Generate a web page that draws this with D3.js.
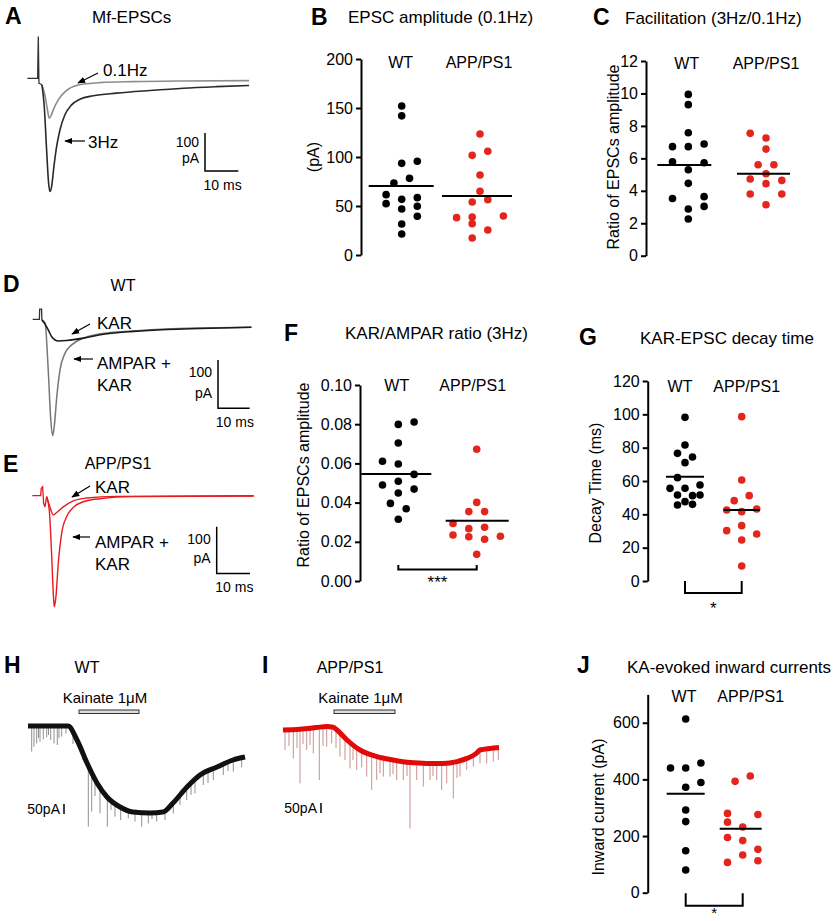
<!DOCTYPE html>
<html><head><meta charset="utf-8">
<script src="https://cdn.jsdelivr.net/npm/d3@7"></script>
<style>body{margin:0;background:#fff}svg{display:block}</style>
</head><body>
<script>
// ---------------- DATA ----------------
const groups = ["WT", "APP/PS1"];
// B: EPSC amplitude (pA)
const bWT = [152,142,93.5,95.6,73.5,78.2,61.6,52.4,56.8,58.5,46.9,49.7,39.5,31.6,21.4];
const bWTSlot = [0,0,0,2,-1,1,-2,-2,0,2,0,2,2,0,0];
const bAPP = [123.5,101.7,105.8,81.6,65,54.1,56.5,38.1,38.8,39.8,32,25.5,17.3];
const bAPPSlot = [0,-1,1,0,0,-1,1,-3,-1,3,-1,1,-1];
const bMean = [70.3, 60.1];
const bTicks = [0,50,100,150,200];
// C: Facilitation ratio
const cWT = [9.94,9.31,7.58,6.72,6.72,6.88,5.79,5.73,5.30,4.46,3.53,3.64,3.04,2.88,2.26];
const cWTSlot = [0,0,0,-2,0,2,-2,2,0,0,-2,2,2,0,0];
const cAPP = [7.54,7.25,6.57,5.61,5.61,4.73,5.05,4.44,4.64,3.80,3.80,3.14];
const cAPPSlot = [-2,0,0,-1,1,-2,0,0,2,-2,2,0];
const cMean = [5.59, 5.05];
const cTicks = [0,2,4,6,8,10,12];
// F: KAR/AMPAR ratio
const fWT = [0.0799,0.0811,0.0704,0.0611,0.0597,0.0544,0.0490,0.0509,0.0469,0.0449,0.0396,0.0369,0.0315];
const fWTSlot = [0,2,0,-2,0,2,-2,0,2,0,-1,1,0];
const fAPP = [0.0672,0.0401,0.0354,0.0354,0.0294,0.0267,0.0274,0.0235,0.0226,0.0213,0.0228,0.0136];
const fAPPSlot = [0,0,-1,1,-3,-1,1,-3,-1,1,3,0];
const fMean = [0.0546, 0.0308];
const fTicks = [0,0.02,0.04,0.06,0.08,0.10];
// G: KAR-EPSC decay time (ms)
const gWT = [98.2,81.6,76.6,74.4,71,62,55.6,55.6,57.6,51.6,51.2,51.6,47.6,45.6,46];
const gWTSlot = [0,0,-1,1,0,-1,-2,0,2,-1,1,2,0,-1,1];
const gAPP = [98.6,60.6,48.2,51.2,42.6,41.6,43.2,33.2,30.2,28.2,24.6,9];
const gAPPSlot = [0,0,-1,1,-2,0,2,0,-2,2,0,0];
const gMean = [62.6, 42.6];
const gTicks = [0,20,40,60,80,100,120];
// J: KA-evoked inward currents (pA)
const jWT = [613,440,440,458,372,389,292,251,148,80];
const jWTSlot = [0,-2,0,2,0,2,0,0,0,0];
const jAPP = [393,412,280,276,249,232,195,184,153,133,107,113];
const jAPPSlot = [-1,1,-2,2,-2,0,-2,0,2,0,-2,2];
const jMean = [349, 226];
const jTicks = [0,200,400,600];

// A: Mf-EPSC traces [ms, pA]
const aStim = [[0,0],[3.1,0],[3.3,110],[3.5,-13],[4.0,-15],[4.4,-17.5]];
const a01Hz = [[4.4,-17.5],[5.3,-45],[6.0,-80],[6.6,-105],[7.2,-97],[7.8,-83],[9.3,-57],[11.8,-32],[15.3,-17.5],[21.8,-11.4],[31.8,-8.8],[46.8,-7],[66.6,-6.1]];
const a3Hz = [[4.4,-17.5],[5.1,-75],[5.8,-189],[6.4,-276],[6.8,-298],[7.3,-285],[8.0,-232],[8.8,-180],[9.8,-136],[11.3,-96],[13.3,-70],[15.8,-55],[19.8,-46],[26.8,-39],[36.8,-32],[46.8,-26],[56.8,-22],[66.6,-19]];
// D: WT traces
const dStim = [[0,0],[2.1,0],[2.2,21],[2.8,21],[2.9,-1.4]];
const dAmpaKar = [[2.9,-1.4],[3.9,-8],[4.9,-105],[5.7,-208],[6.3,-241],[6.8,-222],[7.6,-160],[8.6,-105],[10.2,-70],[12.3,-53],[16,-39],[21.3,-30],[31.8,-24],[42.3,-20],[52.8,-18],[69,-16.5]];
const dKar = [[2.9,-1.4],[3.9,-10],[4.9,-22],[6,-36],[8.1,-45],[10.7,-44],[16,-39],[21.3,-32],[31.8,-25],[42.3,-21],[52.8,-19],[69,-16.5]];
// E: APP/PS1 traces
const eStim = [[0,0],[2.5,0],[2.7,16],[3.1,19],[3.4,-16],[3.8,-24],[4.3,-2]];
const eKar = [[4.3,-2],[5.3,-24],[6.3,-41],[7.3,-36],[9.3,-24],[12.3,-11],[16.3,-5],[25.3,-1.4],[66.5,0]];
const eAmpaKar = [[4.3,-2],[5.1,-31],[5.8,-124],[6.3,-209],[6.6,-238],[7.1,-216],[7.8,-145],[8.8,-81],[10.3,-45],[12.3,-25],[15.3,-13],[20.3,-6.4],[30.3,-2],[66.5,-0.7]];
// H: WT kainate response [s, pA] and spontaneous events (tip pA)
const hTrace = [[0,0],[40,0],[49,-70],[59,-185],[69,-285],[79,-355],[92,-405],[105,-430],[122,-435],[135,-430],[145,-385],[159,-305],[172,-245],[189,-205],[205,-170],[217,-155]];
const hEvents = [[3.7,-128],[6,-103],[8.7,-87],[10.5,-60],[12,-78],[15.3,-67],[18.7,-57],[20.5,-45],[22.7,-70],[26,-87],[29.3,-95],[31,-60],[33.7,-53],[38,-37],[45,-90],[55,-170],[60.3,-503],[63.7,-428],[67,-350],[72,-437],[79.3,-503],[83,-420],[87,-453],[92.7,-470],[100.3,-462],[107,-478],[113.7,-503],[120.3,-487],[124,-465],[128.7,-478],[137,-470],[145.3,-437],[152,-395],[158.7,-370],[163,-345],[167,-337],[175.3,-295],[180,-285],[185.3,-270],[195.3,-245],[200,-225],[205.3,-228],[213.7,-207]];
// I: APP/PS1 kainate response
const iTrace = [[0,0],[17,4],[33,12],[44,18],[50,14],[54,0],[64,-50],[77,-100],[94,-133],[110,-150],[127,-163],[144,-167],[160,-167],[174,-158],[184,-142],[193,-118],[197,-100],[207,-92],[216,-88]];
const iEvents = [[2,-100],[6,-80],[10.3,-142],[14,-90],[17,-267],[20,-70],[23.7,-100],[27,-75],[30.3,-117],[36.3,-250],[40,-80],[43.7,-83],[48.7,-67],[53,-90],[57,-133],[62,-150],[67,-192],[70,-150],[73.7,-200],[78.7,-187],[83.7,-233],[88.7,-300],[93.7,-250],[97,-215],[100.3,-233],[107,-233],[110,-220],[113.7,-250],[120.3,-250],[124,-230],[127,-492],[133.7,-250],[140.3,-283],[147,-250],[150,-230],[153.7,-250],[158.7,-300],[163.7,-267],[170.3,-342],[174,-240],[177,-233],[183.7,-200],[190.3,-183],[197,-167],[203.7,-167],[210.3,-158],[215.3,-150]];

// ---------------- DRAWING ----------------
const FONT = "'Liberation Sans', Arial, Helvetica, sans-serif";
const RED = "#e3261b";
const svg = d3.select("body").append("svg").attr("width",837).attr("height",921)
  .style("font-family", FONT);

function txt(x,y,s,o={}){
  const t = svg.append("text").attr("x",x).attr("y",y).text(s)
    .attr("font-size",o.size||15).attr("fill",o.fill||"#000")
    .attr("text-anchor",o.anchor||"start");
  if(o.weight) t.attr("font-weight",o.weight);
  if(o.rotate) t.attr("transform",`rotate(-90,${x},${y})`);
  return t;
}
const defs = svg.append("defs");
defs.append("marker").attr("id","arr").attr("viewBox","0 0 10 10")
  .attr("refX",9).attr("refY",5).attr("markerWidth",8).attr("markerHeight",8)
  .attr("markerUnits","userSpaceOnUse").attr("orient","auto")
  .append("path").attr("d","M0,1 L10,5 L0,9 z").attr("fill","#000");
function arrow(x1,y1,x2,y2){
  svg.append("line").attr("x1",x1).attr("y1",y1).attr("x2",x2).attr("y2",y2)
    .attr("stroke","#000").attr("stroke-width",1.2).attr("marker-end","url(#arr)");
}

// panel letters & titles
[["A",5,24],["B",311,25],["C",593,25],["D",3,292],["E",3,472],["F",284,341],["G",579,345],["H",4,673],["I",262,673],["J",577,673]]
  .forEach(([l,x,y])=>txt(x,y,l,{size:23,weight:"bold"}));
txt(92,23,"Mf-EPSCs",{size:17});
txt(348,23,"EPSC amplitude (0.1Hz)",{size:17});
txt(625,24,"Facilitation (3Hz/0.1Hz)",{size:17});
txt(123,291,"WT",{size:16,anchor:"middle"});
txt(118,469,"APP/PS1",{size:16,anchor:"middle"});
txt(345,339,"KAR/AMPAR ratio (3Hz)",{size:17});
txt(640,344,"KAR-EPSC decay time",{size:17});
txt(87,673,"WT",{size:16,anchor:"middle"});
txt(350,673,"APP/PS1",{size:16,anchor:"middle"});
txt(627,673,"KA-evoked inward currents",{size:17});

// ---------- scatter panels ----------
function scatter(c){
  const y = d3.scaleLinear().domain(c.domain).range([c.y0,c.y1]);
  const x = d3.scalePoint().domain(groups).range([c.xWT,c.xAPP]);
  const g = svg.append("g").attr("transform",`translate(${c.axisX},0)`)
    .call(d3.axisLeft(y).tickValues(c.ticks).tickFormat(c.fmt||d3.format("d"))
      .tickSize(5).tickSizeOuter(0).tickPadding(3));
  g.select(".domain").attr("stroke-width",2).attr("stroke","#000");
  g.selectAll(".tick line").attr("stroke-width",2).attr("stroke","#000");
  g.selectAll(".tick text").attr("font-size",16).attr("font-family",FONT).attr("fill","#000");
  const sets = [[c.wt,c.wtSlot,"#000",groups[0]],[c.app,c.appSlot,RED,groups[1]]];
  sets.forEach(([vals,slots,col,grp])=>{
    svg.append("g").selectAll("circle").data(vals).join("circle")
      .attr("cx",(d,i)=>x(grp)+slots[i]*c.slot).attr("cy",d=>y(d))
      .attr("r",3.8).attr("fill",col);
  });
  c.mean.forEach((m,i)=>{
    const cx = x(groups[i]);
    svg.append("line").attr("x1",cx-c.half[i][0]).attr("x2",cx+c.half[i][1])
      .attr("y1",y(m)).attr("y2",y(m)).attr("stroke","#000").attr("stroke-width",2);
  });
  txt(c.xWT+c.lab[0],c.labY,groups[0],{size:16,anchor:"middle"});
  txt(c.xAPP+c.lab[1],c.labY,groups[1],{size:16,anchor:"middle"});
  txt(c.ylab[0],c.ylab[1],c.ylabel,{size:16,anchor:"middle",rotate:true});
  if(c.br){
    const [top,bot,ty,stars,ss] = c.br;
    svg.append("path").attr("d",`M${c.xWT},${top}V${bot}H${c.xAPP}V${top}`)
      .attr("fill","none").attr("stroke","#000").attr("stroke-width",2);
    txt((c.xWT+c.xAPP)/2,ty,stars,{size:ss,anchor:"middle"});
  }
  return y;
}

scatter({domain:[0,200],y0:255,y1:59,axisX:361,ticks:bTicks,xWT:401.7,xAPP:480,slot:7.8,
  wt:bWT,wtSlot:bWTSlot,app:bAPP,appSlot:bAPPSlot,mean:bMean,half:[[33,32],[38,32]],
  lab:[-1,-1],labY:68,ylab:[319,157],ylabel:"(pA)"});
scatter({domain:[0,12],y0:255.7,y1:61,axisX:646,ticks:cTicks,xWT:688.3,xAPP:766,slot:7.9,
  wt:cWT,wtSlot:cWTSlot,app:cAPP,appSlot:cAPPSlot,mean:cMean,half:[[31,23],[29,24]],
  lab:[-1.5,0],labY:69,ylab:[619,157],ylabel:"Ratio of EPSCs amplitude"});
scatter({domain:[0,0.10],y0:581,y1:385,axisX:360,ticks:fTicks,fmt:d3.format(".2f"),xWT:398.3,xAPP:476.7,slot:7.9,
  wt:fWT,wtSlot:fWTSlot,app:fAPP,appSlot:fAPPSlot,mean:fMean,half:[[37,33],[31,32]],
  lab:[-1.5,-4],labY:391,ylab:[309,475],ylabel:"Ratio of EPSCs amplitude"});
scatter({domain:[0,120],y0:581,y1:381,axisX:647.7,ticks:gTicks,xWT:685,xAPP:741.7,slot:7.5,
  wt:gWT,wtSlot:gWTSlot,app:gAPP,appSlot:gAPPSlot,mean:gMean,half:[[19,19],[18,18]],
  lab:[-5,5],labY:392,ylab:[601,483],ylabel:"Decay Time (ms)",br:[581,593,614,"*",17]});
scatter({domain:[0,700],y0:892.7,y1:694.4,axisX:647.7,ticks:jTicks,xWT:685.7,xAPP:742.7,slot:7.6,
  wt:jWT,wtSlot:jWTSlot,app:jAPP,appSlot:jAPPSlot,mean:jMean,half:[[19,19],[23,19]],
  lab:[-1.7,8],labY:702,ylab:[604,807],ylabel:"Inward current (pA)",br:[893.3,905.7,918,"*",15]});
// F bracket (inside axis range)
svg.append("path").attr("d","M398.3,565V569.5H476.7V565").attr("fill","none").attr("stroke","#000").attr("stroke-width",2);
txt(437.5,588,"***",{size:17,anchor:"middle"});

// ---------- EPSC traces ----------
function tracePanel(p){
  const x = d3.scaleLinear().domain([0,10]).range([p.x0,p.x0+p.ms10]);
  const y = d3.scaleLinear().domain([0,-100]).range([p.y0,p.y0+p.pa100]);
  const lin = d3.line().x(d=>x(d[0])).y(d=>y(d[1]));
  const crv = d3.line().x(d=>x(d[0])).y(d=>y(d[1])).curve(d3.curveMonotoneX);
  p.traces.forEach(([data,col,w])=>{
    svg.append("path").attr("d",crv(data)).attr("fill","none").attr("stroke",col).attr("stroke-width",w);
  });
  svg.append("path").attr("d",lin(p.stim)).attr("fill","none").attr("stroke",p.stimCol).attr("stroke-width",1.3);
  const sx = p.bar[0], sy = p.bar[1];
  const h = y(-100)-y(0), wv = x(10)-x(0);
  svg.append("path").attr("d",`M${sx},${sy}V${sy+h}H${sx+wv}`).attr("fill","none").attr("stroke","#000").attr("stroke-width",1.5);
  txt(sx-6,sy+h*0.36,"100",{size:14,anchor:"end"});
  txt(sx-6,sy+h*0.78,"pA",{size:14,anchor:"end"});
  txt(sx+wv/2+1,sy+h+19,"10 ms",{size:14,anchor:"middle"});
}
tracePanel({x0:27.3,y0:78.3,ms10:33.3,pa100:38,stim:aStim,stimCol:"#333",
  traces:[[a01Hz,"#8c8c8c",1.6],[a3Hz,"#2a2a2a",1.6]],bar:[205,133]});
tracePanel({x0:32.7,y0:319.3,ms10:31.7,pa100:48.3,stim:dStim,stimCol:"#333",
  traces:[[dAmpaKar,"#777",1.5],[dKar,"#1a1a1a",1.6]],bar:[218,360]});
tracePanel({x0:32.3,y0:495.7,ms10:33.3,pa100:46.7,stim:eStim,stimCol:"#e8141b",
  traces:[[eKar,"#ea1a1f",1.4],[eAmpaKar,"#ea1a1f",1.4]],bar:[216.7,526.7]});

txt(103,76,"0.1Hz",{size:17}); arrow(98,73,78,83);
txt(88,148,"3Hz",{size:17}); arrow(85,141,65,141);
txt(97,329,"KAR",{size:17}); arrow(90,324,72,334);
txt(97,369,"AMPAR +",{size:17}); txt(97,391,"KAR",{size:17}); arrow(93,359,74,359);
txt(95,493,"KAR",{size:17}); arrow(90,486,72,497);
txt(95,548,"AMPAR +",{size:17}); txt(95,570,"KAR",{size:17}); arrow(90,537,73,537);

// ---------- kainate traces ----------
function kainate(p){
  const x = d3.scaleLinear().domain([0,217]).range([p.x0,p.x0+217]);
  const y = d3.scaleLinear().domain([0,-50]).range([p.y0,p.y0+10]);
  const ts = p.trace.map(d=>d[0]), vs = p.trace.map(d=>d[1]);
  const interp = t => { const i = Math.max(1,d3.bisectRight(ts,t)); const j=Math.min(i,ts.length-1);
    const a=ts[j-1],b=ts[j]; return vs[j-1]+(vs[j]-vs[j-1])*((t-a)/(b-a||1)); };
  svg.append("g").selectAll("line").data(p.events).join("line")
    .attr("x1",d=>x(d[0])).attr("x2",d=>x(d[0]))
    .attr("y1",d=>y(interp(d[0]))).attr("y2",d=>y(d[1]))
    .attr("stroke",p.evCol).attr("stroke-width",1);
  svg.append("path").attr("d",d3.line().x(d=>x(d[0])).y(d=>y(d[1])).curve(d3.curveMonotoneX)(p.trace))
    .attr("fill","none").attr("stroke",p.col).attr("stroke-width",p.w).attr("stroke-linejoin","round");
  svg.append("rect").attr("x",p.bar[0]).attr("y",710).attr("width",p.bar[1]-p.bar[0]).attr("height",3.5)
    .attr("fill","#ddd").attr("stroke","#333").attr("stroke-width",1);
  txt((p.bar[0]+p.bar[1])/2-4,703,"Kainate 1μM",{size:15,anchor:"middle"});
  svg.append("line").attr("x1",p.sb[0]).attr("x2",p.sb[0]).attr("y1",p.sb[1]).attr("y2",p.sb[1]+(y(-50)-y(0)))
    .attr("stroke","#000").attr("stroke-width",1.5);
  txt(p.sb[0]-4,p.sb[1]+10,"50pA",{size:14,anchor:"end"});
}
kainate({x0:28,y0:726,trace:hTrace,events:hEvents,col:"#111",w:5,evCol:"#8f8f8f",bar:[79,139],sb:[64,804]});
kainate({x0:283,y0:730,trace:iTrace,events:iEvents,col:"#e00a0a",w:5,evCol:"#c99090",bar:[334,395],sb:[321,803]});
</script>
</body></html>
